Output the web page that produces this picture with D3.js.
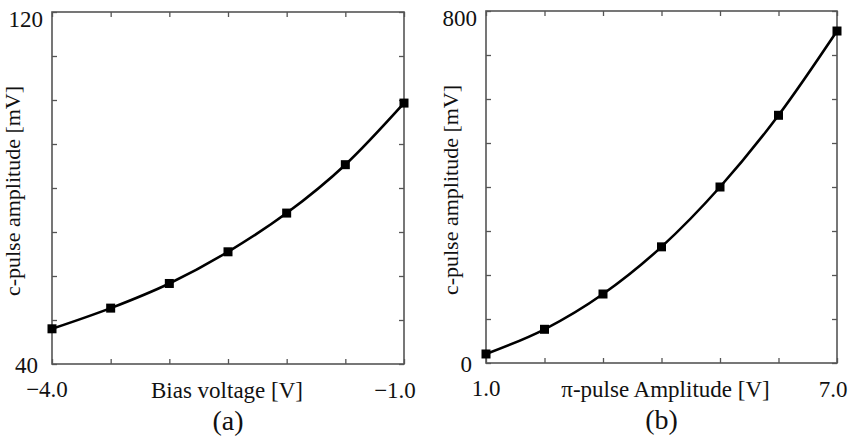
<!DOCTYPE html>
<html>
<head>
<meta charset="utf-8">
<script src="https://cdn.jsdelivr.net/npm/d3@7"></script>
<style>
    body { margin: 0; background: #fff; }
</style>
</head>
<body>
<div id="chart"></div>
<script>

// panel (a)
var biasVoltage = [-4.0, -3.5, -3.0, -2.5, -2.0, -1.5, -1.0];
var cPulseA = [48.0, 52.7, 58.3, 65.5, 74.3, 85.3, 99.3];
var yTicksA = ["40", "120"];
var xTicksA = ["\u22124.0", "\u22121.0"];

// panel (b)
var piAmplitude = [1.0, 2.0, 3.0, 4.0, 5.0, 6.0, 7.0];
var cPulseB = [20.5, 76.6, 156.8, 264, 400, 563, 754.5];
var yTicksB = ["0", "800"];
var xTicksB = ["1.0", "7.0"];

var FONT = "'Liberation Serif', 'DejaVu Serif', serif";

var svg = d3.select("#chart").append("svg")
    .attr("width", 852)
    .attr("height", 439)
    .attr("font-family", FONT);

function drawPanel(cfg) {

    var g = svg.append("g")
        .attr("transform", "translate(" + cfg.left + "," + cfg.top + ")");

    var x = d3.scaleLinear().domain(cfg.xDomain).range([0, cfg.w]);
    var y = d3.scaleLinear().domain(cfg.yDomain).range([cfg.h, 0]);

    // inward ticks on all four sides
    var axes = [
        {axis: d3.axisBottom(x).tickValues(cfg.xTickVals).tickSizeInner(-5), t: "translate(0," + cfg.h + ")"},
        {axis: d3.axisTop(x).tickValues(cfg.xTickVals).tickSizeInner(-5), t: "translate(0,0)"},
        {axis: d3.axisLeft(y).tickValues(cfg.yTickVals).tickSizeInner(-5), t: "translate(0,0)"},
        {axis: d3.axisRight(y).tickValues(cfg.yTickVals).tickSizeInner(-5), t: "translate(" + cfg.w + ",0)"}
    ];
    axes.forEach(function (a) {
        var ag = g.append("g")
            .attr("transform", a.t)
            .call(a.axis.tickSizeOuter(0).tickFormat(""));
        ag.select(".domain").remove();
        ag.selectAll(".tick line").attr("stroke", "#555").attr("stroke-width", 1.3);
    });

    g.append("rect")
        .attr("width", cfg.w)
        .attr("height", cfg.h)
        .attr("fill", "none")
        .attr("stroke", "#555")
        .attr("stroke-width", 1.6);

    function label(xp, yp, anchor, size, txt) {
        return g.append("text")
            .attr("x", xp).attr("y", yp)
            .attr("text-anchor", anchor)
            .attr("font-family", FONT)
            .attr("font-size", size)
            .attr("fill", "#111")
            .text(txt);
    }

    // tick labels at the ends only
    label(-14, y(cfg.yDomain[0]) + 9, "end", 23, cfg.yLabels[0]);
    label(-9, y(cfg.yDomain[1]) + 15, "end", 23, cfg.yLabels[1]);
    label(x(cfg.xDomain[0]) + cfg.xLabDx[0], cfg.h + 33, "middle", 23, cfg.xLabels[0]);
    label(x(cfg.xDomain[1]) + cfg.xLabDx[1], cfg.h + 34, "middle", 23, cfg.xLabels[1]);

    // axis titles
    label(cfg.w / 2 + cfg.titleDx, cfg.h + 34, "middle", 23, cfg.xTitle);
    label(0, 0, "middle", 22, cfg.yTitle)
        .attr("transform", "translate(" + cfg.yTitleX + "," + (cfg.h / 2 + 3) + ") rotate(-90)");
    label(cfg.w / 2, cfg.h + 66, "middle", 28, cfg.caption);

    var pts = cfg.xs.map(function (d, i) { return [d, cfg.ys[i]]; });

    g.append("path")
        .datum(pts)
        .attr("fill", "none")
        .attr("stroke", "#000")
        .attr("stroke-width", 2.6)
        .attr("d", d3.line()
            .curve(d3.curveMonotoneX)
            .x(function (d) { return x(d[0]); })
            .y(function (d) { return y(d[1]); }));

    g.selectAll(".marker")
        .data(pts)
        .enter().append("rect")
        .attr("class", "marker")
        .attr("x", function (d) { return x(d[0]) - 4.5; })
        .attr("y", function (d) { return y(d[1]) - 4.5; })
        .attr("width", 9)
        .attr("height", 9)
        .attr("fill", "#000");
}

drawPanel({
    left: 52, top: 12, w: 352, h: 352,
    xDomain: [-4.0, -1.0], yDomain: [40, 120],
    xTickVals: biasVoltage, yTickVals: d3.range(40, 121, 10),
    xs: biasVoltage, ys: cPulseA,
    yLabels: yTicksA, xLabels: xTicksA, xLabDx: [-5, -9],
    xTitle: "Bias voltage [V]", titleDx: -1,
    yTitle: "c-pulse amplitude [mV]", yTitleX: -32,
    caption: "(a)"
});

drawPanel({
    left: 486, top: 11, w: 351, h: 352,
    xDomain: [1.0, 7.0], yDomain: [0, 800],
    xTickVals: piAmplitude, yTickVals: d3.range(0, 801, 100),
    xs: piAmplitude, ys: cPulseB,
    yLabels: yTicksB, xLabels: xTicksB, xLabDx: [0, -4],
    xTitle: "\u03c0-pulse Amplitude [V]", titleDx: 4,
    yTitle: "c-pulse amplitude [mV]", yTitleX: -28,
    caption: "(b)"
});

</script>
</body>
</html>
